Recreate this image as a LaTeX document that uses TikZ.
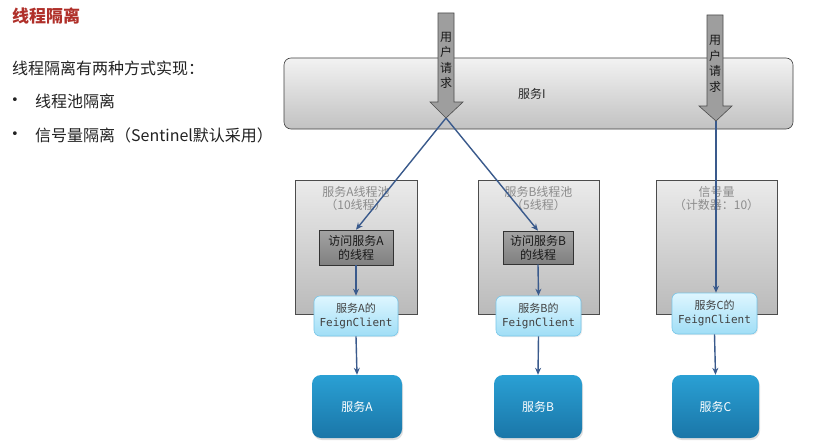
\documentclass[tikz,border=0pt]{standalone}
\usepackage{fontspec}
\setmainfont{Noto Sans CJK SC}
\newfontfamily\cjk{Noto Sans CJK SC}
\newfontfamily\monof{DejaVu Sans Mono}
\newfontfamily\dejavu{DejaVu Sans}
\usetikzlibrary{arrows.meta,shadows}
\definecolor{titlered}{HTML}{B0302A}
\definecolor{txt}{HTML}{222222}
\definecolor{linkblue}{HTML}{3A5A8C}
\definecolor{poolgray}{HTML}{8C8C8C}
\definecolor{feigntop}{RGB}{222,246,255}
\definecolor{feignbot}{RGB}{160,222,246}
\definecolor{feignline}{RGB}{120,198,232}
\tikzset{
  bar/.style={draw=black!75, line width=0.6pt, rounded corners=7pt, top color=black!5, bottom color=black!24},
  pool/.style={draw=black!70, line width=0.6pt, top color=black!8, bottom color=black!27},
  thread/.style={draw=black!80, line width=0.6pt, top color=black!36, bottom color=black!50, font=\cjk\fontsize{12}{14}\selectfont, text=black!90, align=center, inner sep=0pt},
  feign/.style={draw=feignline, line width=0.6pt, rounded corners=6pt, top color=feigntop, bottom color=feignbot, font=\fontsize{11}{14}\selectfont, text=black!75, align=center, inner sep=0pt, drop shadow={opacity=0.15, shadow xshift=1pt, shadow yshift=-1pt}},
  svc/.style={draw=none, rounded corners=9pt, top color={rgb,255:red,42;green,160;blue,212}, bottom color={rgb,255:red,26;green,118;blue,168}, font=\cjk\fontsize{12}{14}\selectfont, text=white, inner sep=0pt, drop shadow={opacity=0.25, shadow xshift=1pt, shadow yshift=-2pt}},
  blockarrow/.style={draw=black!70, line width=0.6pt, fill=black!38},
  link/.style={draw=linkblue, line width=1.4pt, -{Stealth[length=7pt,width=6pt]}},
  pooltext/.style={font=\cjk\fontsize{12}{13.5}\selectfont, text=poolgray, align=center},
  bulletdot/.style={font=\dejavu\fontsize{13}{14}\selectfont, text=txt, inner sep=0pt, anchor=center},
  bodytext/.style={anchor=west, font=\cjk\fontsize{16}{18}\selectfont, text=txt, inner sep=0pt}
}
\begin{document}
\begin{tikzpicture}[x=1pt,y=-1pt]
\useasboundingbox (0,0) rectangle (835,444);
\fill[white] (0,0) rectangle (835,444);
% left text
\node[anchor=west, font=\cjk\bfseries\fontsize{17}{20}\selectfont, text=titlered, inner sep=0pt] (title) at (12,16) {线程隔离};
\node[bodytext] (intro) at (12,68) {线程隔离有两种方式实现：};
\node[bulletdot] (b1) at (15,101) {•};
\node[bodytext] (t1) at (35,101) {线程池隔离};
\node[bulletdot] (b2) at (15,135) {•};
\node[bodytext] (t2) at (35,135) {信号量隔离（Sentinel默认采用）};
% service I bar
\node[bar, minimum width=509pt, minimum height=71pt, inner sep=0pt] (svcI) at (538.5,93.5) {};
\node[font=\cjk\fontsize{12}{14}\selectfont, text=black!85, inner sep=0pt] (svcIt) at (532,94) {服务I};
% pools
\node[pool, minimum width=122pt, minimum height=134pt, inner sep=0pt] (poolA) at (356,247) {};
\node[pool, minimum width=121pt, minimum height=134pt, inner sep=0pt] (poolB) at (538.5,247) {};
\node[pool, minimum width=121pt, minimum height=134pt, inner sep=0pt] (poolC) at (716.5,247) {};
\node[pooltext] (poolAt) at (356,198.5) {服务A线程池\\（10线程）};
\node[pooltext] (poolBt) at (538.5,198.5) {服务B线程池\\（5线程）};
\node[pooltext] (poolCt) at (716.5,198.5) {信号量\\（计数器：10）};
% thread boxes
\node[thread, minimum width=74pt, minimum height=35pt] (thA) at (356,247.5) {访问服务A\\的线程};
\node[thread, minimum width=70pt, minimum height=33pt] (thB) at (538,247.5) {访问服务B\\的线程};
% feign clients
\node[feign, minimum width=84pt, minimum height=40pt] (fA) at (356,316) {{\cjk 服务A的}\\{\monof FeignClient}};
\node[feign, minimum width=85pt, minimum height=40pt] (fB) at (538.5,316) {{\cjk 服务B的}\\{\monof FeignClient}};
\node[feign, minimum width=85pt, minimum height=41pt] (fC) at (714.5,313.5) {{\cjk 服务C的}\\{\monof FeignClient}};
% services
\node[svc, minimum width=90pt, minimum height=63pt] (sA) at (357,406.5) {服务A};
\node[svc, minimum width=88pt, minimum height=63pt] (sB) at (538,406.5) {服务B};
\node[svc, minimum width=87pt, minimum height=63pt] (sC) at (715.5,406.5) {服务C};
% connectors
\coordinate (tip1) at (446,118);
\coordinate (tip2) at (716,121);
\draw[link] (tip1) -- (thA.north);
\draw[link] (tip1) -- (thB.north);
\draw[link] (tip2) -- (tip2 |- fC.north);
\draw[link] (thA.south) -- (fA.north);
\draw[link] (thB.south) -- (fB.north);
\draw[link] (fA.south) -- (sA.north);
\draw[link] (fB.south) -- (sB.north);
\draw[link] (fC.south) -- (sC.north);
% block arrows
\draw[blockarrow] (438,13) -- (454,13) -- (454,102) -- (463,102) -- (tip1) -- (430,102) -- (438,102) -- cycle;
\draw[blockarrow] (707,15) -- (723,15) -- (723,106) -- (732,106) -- (tip2) -- (699,106) -- (707,106) -- cycle;
\node[font=\cjk\fontsize{12}{15.5}\selectfont, text=black!90, align=center, inner sep=0pt] (req1) at (446,60.5) {用\\户\\请\\求};
\node[font=\cjk\fontsize{12}{15.5}\selectfont, text=black!90, align=center, inner sep=0pt] (req2) at (715,64) {用\\户\\请\\求};
\end{tikzpicture}
\end{document}
